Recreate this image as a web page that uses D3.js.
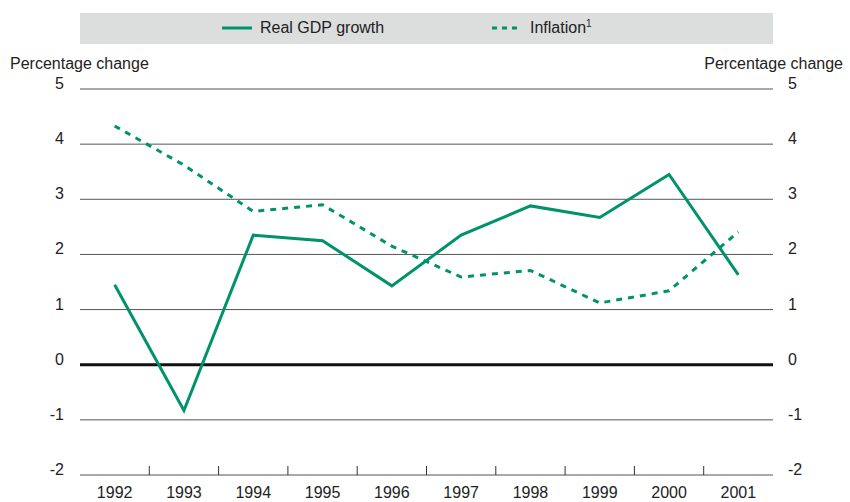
<!DOCTYPE html>
<html>
<head>
<meta charset="utf-8">
<script src="https://cdn.jsdelivr.net/npm/d3@7"></script>
<style>
  body { margin: 0; background: #fff; }
  text { font-family: "Liberation Sans Narrow", "Liberation Sans", Arial, sans-serif; fill: #222; }
</style>
</head>
<body>
<div class="chart"></div>
<script>
const years = ['1992','1993','1994','1995','1996','1997','1998','1999','2000','2001'];
const gdpGrowth = [1.45, -0.83, 2.35, 2.25, 1.43, 2.35, 2.88, 2.67, 3.45, 1.63];
const inflation = [4.33, 3.62, 2.78, 2.9, 2.15, 1.59, 1.71, 1.12, 1.34, 2.41];
const yTicks = [-2, -1, 0, 1, 2, 3, 4, 5];

const margin = {top: 89, left: 80, bottom: 27, right: 77};
const W = 850, H = 502;
const width = W - margin.left - margin.right;
const height = H - margin.top - margin.bottom;
const green = '#00936b';
const fs = 16;

const svg = d3.select('.chart')
    .append('svg')
    .attr('width', W)
    .attr('height', H);

const g = svg.append('g')
    .attr('transform', 'translate(' + margin.left + ',' + margin.top + ')');

const xScale = d3.scaleBand()
    .domain(years)
    .range([0, width]);

const yScale = d3.scaleLinear()
    .domain([-2, 5])
    .range([height, 0]);

// legend box
svg.append('rect')
    .attr('x', margin.left).attr('y', 13)
    .attr('width', width).attr('height', 31)
    .attr('fill', '#dcdddd');

const legend = [
  {name: 'Real GDP growth', x: 222, dash: null},
  {name: 'Inflation', x: 492, dash: '5,5', sup: '1'}
];
legend.forEach(l => {
  svg.append('line')
      .attr('x1', l.x).attr('x2', l.x + 30)
      .attr('y1', 28).attr('y2', 28)
      .attr('stroke', green).attr('stroke-width', 3)
      .attr('stroke-dasharray', l.dash);
  const t = svg.append('text')
      .attr('x', l.x + 38).attr('y', 33)
      .attr('font-size', fs)
      .text(l.name);
  if (l.sup) {
    t.append('tspan').attr('dy', -6).attr('font-size', 10).text(l.sup);
  }
});

// axis titles
svg.append('text').attr('x', 10).attr('y', 69).attr('font-size', fs).text('Percentage change');
svg.append('text').attr('x', 843).attr('y', 69).attr('font-size', fs)
    .attr('text-anchor', 'end').text('Percentage change');

// gridlines
g.selectAll('.grid')
    .data(yTicks)
    .enter()
    .append('line')
    .attr('x1', 0).attr('x2', width)
    .attr('y1', d => yScale(d)).attr('y2', d => yScale(d))
    .attr('stroke', d => d === 0 ? '#111' : '#555')
    .attr('stroke-width', d => d === 0 ? 3 : 1);

// y labels both sides
g.selectAll('.ylab-l')
    .data(yTicks)
    .enter()
    .append('text')
    .attr('x', -16).attr('y', d => yScale(d))
    .attr('text-anchor', 'end')
    .attr('font-size', fs)
    .text(d => d);

g.selectAll('.ylab-r')
    .data(yTicks)
    .enter()
    .append('text')
    .attr('x', width + 15).attr('y', d => yScale(d))
    .attr('font-size', fs)
    .text(d => d);

// x axis
const xAxis = d3.axisBottom(xScale).tickSize(0).tickPadding(12);
const xg = g.append('g')
    .attr('transform', 'translate(0,' + height + ')')
    .call(xAxis);
xg.select('.domain').remove();
xg.selectAll('text')
    .attr('font-size', fs)
    .attr('font-family', '"Liberation Sans Narrow", "Liberation Sans", Arial, sans-serif')
    .attr('fill', '#222');

// tick marks between years
g.selectAll('.xtick')
    .data(years.slice(1))
    .enter()
    .append('line')
    .attr('x1', d => xScale(d)).attr('x2', d => xScale(d))
    .attr('y1', height).attr('y2', height - 9)
    .attr('stroke', '#333').attr('stroke-width', 1);

const line = d3.line()
    .x((d, i) => xScale(years[i]) + xScale.bandwidth() / 2)
    .y(d => yScale(d));

g.append('path')
    .datum(inflation)
    .attr('d', line)
    .attr('fill', 'none')
    .attr('stroke', green)
    .attr('stroke-width', 3)
    .attr('stroke-dasharray', '6,6');

g.append('path')
    .datum(gdpGrowth)
    .attr('d', line)
    .attr('fill', 'none')
    .attr('stroke', green)
    .attr('stroke-width', 3);
</script>
</body>
</html>
